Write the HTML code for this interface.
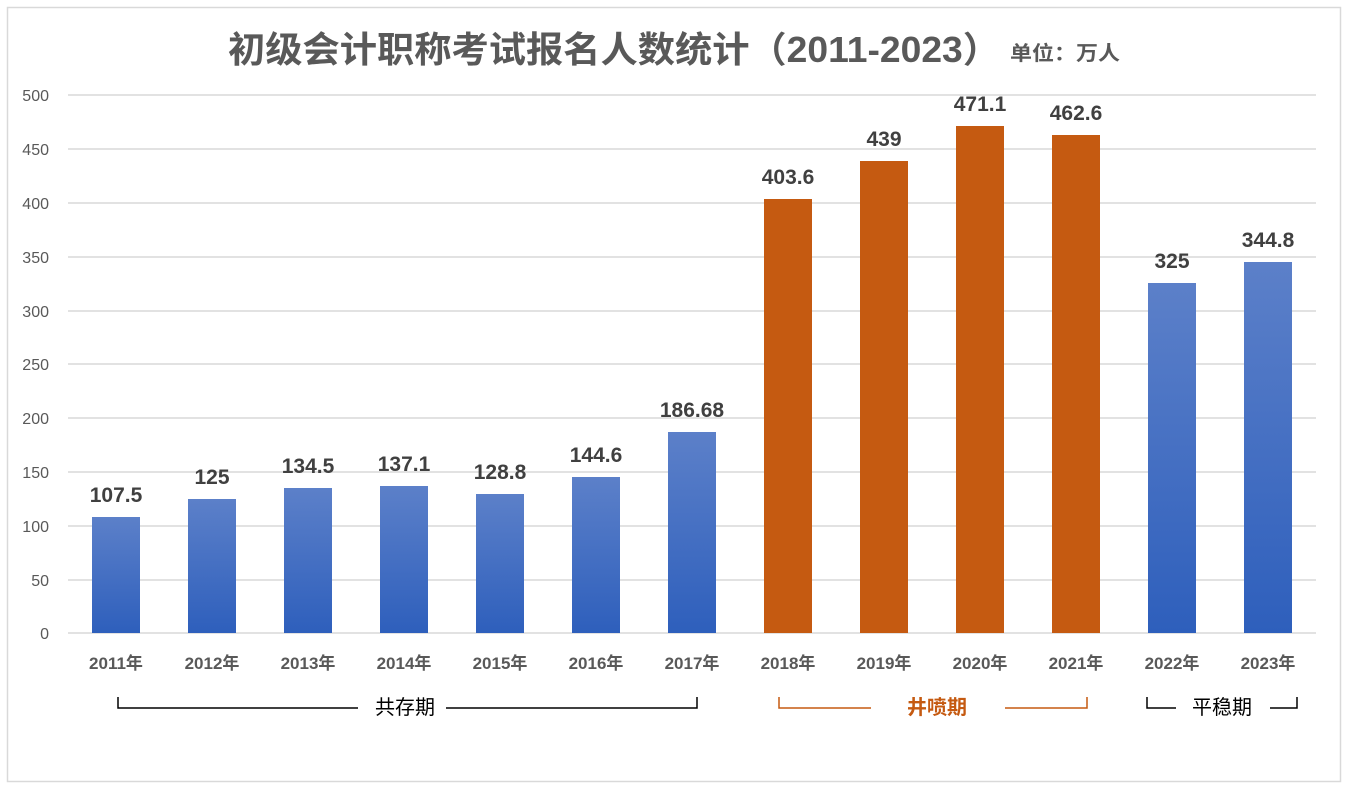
<!DOCTYPE html>
<html><head><meta charset="utf-8"><style>body{margin:0;background:#fff}svg{display:block}</style></head><body>
<svg width="1348" height="789" viewBox="0 0 1348 789" xmlns="http://www.w3.org/2000/svg" font-family="Liberation Sans, Noto Sans CJK SC, sans-serif">
<defs><linearGradient id="b" x1="0" y1="0" x2="0" y2="1"><stop offset="0" stop-color="#5c80c9"/><stop offset="1" stop-color="#2e5fbc"/></linearGradient></defs>
<rect x="7.5" y="7.5" width="1333" height="774" fill="#fff" stroke="#d9d9d9" stroke-width="1.5"/>
<text x="228" y="62" font-size="36" font-weight="bold" fill="#595959" textLength="772" lengthAdjust="spacingAndGlyphs">初级会计职称考试报名人数统计（2011-2023）</text>
<text x="1010" y="60" font-size="20" font-weight="bold" fill="#595959" textLength="110" lengthAdjust="spacingAndGlyphs">单位：万人</text>
<g stroke="#d9d9d9" stroke-width="1.5">
<line x1="68" x2="1316" y1="95" y2="95"/><line x1="68" x2="1316" y1="149" y2="149"/><line x1="68" x2="1316" y1="203" y2="203"/><line x1="68" x2="1316" y1="257" y2="257"/><line x1="68" x2="1316" y1="311" y2="311"/><line x1="68" x2="1316" y1="364" y2="364"/><line x1="68" x2="1316" y1="418" y2="418"/><line x1="68" x2="1316" y1="472" y2="472"/><line x1="68" x2="1316" y1="526" y2="526"/><line x1="68" x2="1316" y1="580" y2="580"/><line x1="68" x2="1316" y1="633" y2="633"/>
</g>
<g font-size="16" fill="#595959" text-anchor="end">
<text x="49" y="101">500</text><text x="49" y="155">450</text><text x="49" y="209">400</text><text x="49" y="263">350</text><text x="49" y="317">300</text><text x="49" y="370">250</text><text x="49" y="424">200</text><text x="49" y="478">150</text><text x="49" y="532">100</text><text x="49" y="586">50</text><text x="49" y="639">0</text>
</g>
<g>
<rect x="92" y="517" width="48" height="116" fill="url(#b)"/>
<rect x="188" y="499" width="48" height="134" fill="url(#b)"/>
<rect x="284" y="488" width="48" height="145" fill="url(#b)"/>
<rect x="380" y="486" width="48" height="147" fill="url(#b)"/>
<rect x="476" y="494" width="48" height="139" fill="url(#b)"/>
<rect x="572" y="477" width="48" height="156" fill="url(#b)"/>
<rect x="668" y="432" width="48" height="201" fill="url(#b)"/>
<rect x="764" y="199" width="48" height="434" fill="#c55a11"/>
<rect x="860" y="161" width="48" height="472" fill="#c55a11"/>
<rect x="956" y="126" width="48" height="507" fill="#c55a11"/>
<rect x="1052" y="135" width="48" height="498" fill="#c55a11"/>
<rect x="1148" y="283" width="48" height="350" fill="url(#b)"/>
<rect x="1244" y="262" width="48" height="371" fill="url(#b)"/>
</g>
<g font-size="21" font-weight="bold" fill="#404040" text-anchor="middle">
<text x="116" y="502">107.5</text><text x="212" y="484">125</text><text x="308" y="473">134.5</text><text x="404" y="471">137.1</text><text x="500" y="479">128.8</text><text x="596" y="462">144.6</text><text x="692" y="417">186.68</text><text x="788" y="184">403.6</text><text x="884" y="146">439</text><text x="980" y="111">471.1</text><text x="1076" y="120">462.6</text><text x="1172" y="268">325</text><text x="1268" y="247">344.8</text>
</g>
<g font-size="17" font-weight="bold" fill="#595959" text-anchor="middle">
<text x="116" y="669">2011年</text><text x="212" y="669">2012年</text><text x="308" y="669">2013年</text><text x="404" y="669">2014年</text><text x="500" y="669">2015年</text><text x="596" y="669">2016年</text><text x="692" y="669">2017年</text><text x="788" y="669">2018年</text><text x="884" y="669">2019年</text><text x="980" y="669">2020年</text><text x="1076" y="669">2021年</text><text x="1172" y="669">2022年</text><text x="1268" y="669">2023年</text>
</g>
<g fill="none" stroke-width="1.5">
<polyline stroke="#000" points="118,697 118,708 358,708"/><polyline stroke="#000" points="446,708 697,708 697,697"/>
<polyline stroke="#c55a11" points="779,697 779,708 871,708"/><polyline stroke="#c55a11" points="1005,708 1087,708 1087,697"/>
<polyline stroke="#000" points="1147,697 1147,708 1176,708"/>
<polyline stroke="#000" points="1270,708 1297,708 1297,697"/>
</g>
<text x="405" y="714" font-size="20" fill="#000" text-anchor="middle">共存期</text>
<text x="937" y="714" font-size="20" font-weight="bold" fill="#c55a11" text-anchor="middle">井喷期</text>
<text x="1222" y="714" font-size="20" fill="#000" text-anchor="middle">平稳期</text>
</svg>
</body></html>
